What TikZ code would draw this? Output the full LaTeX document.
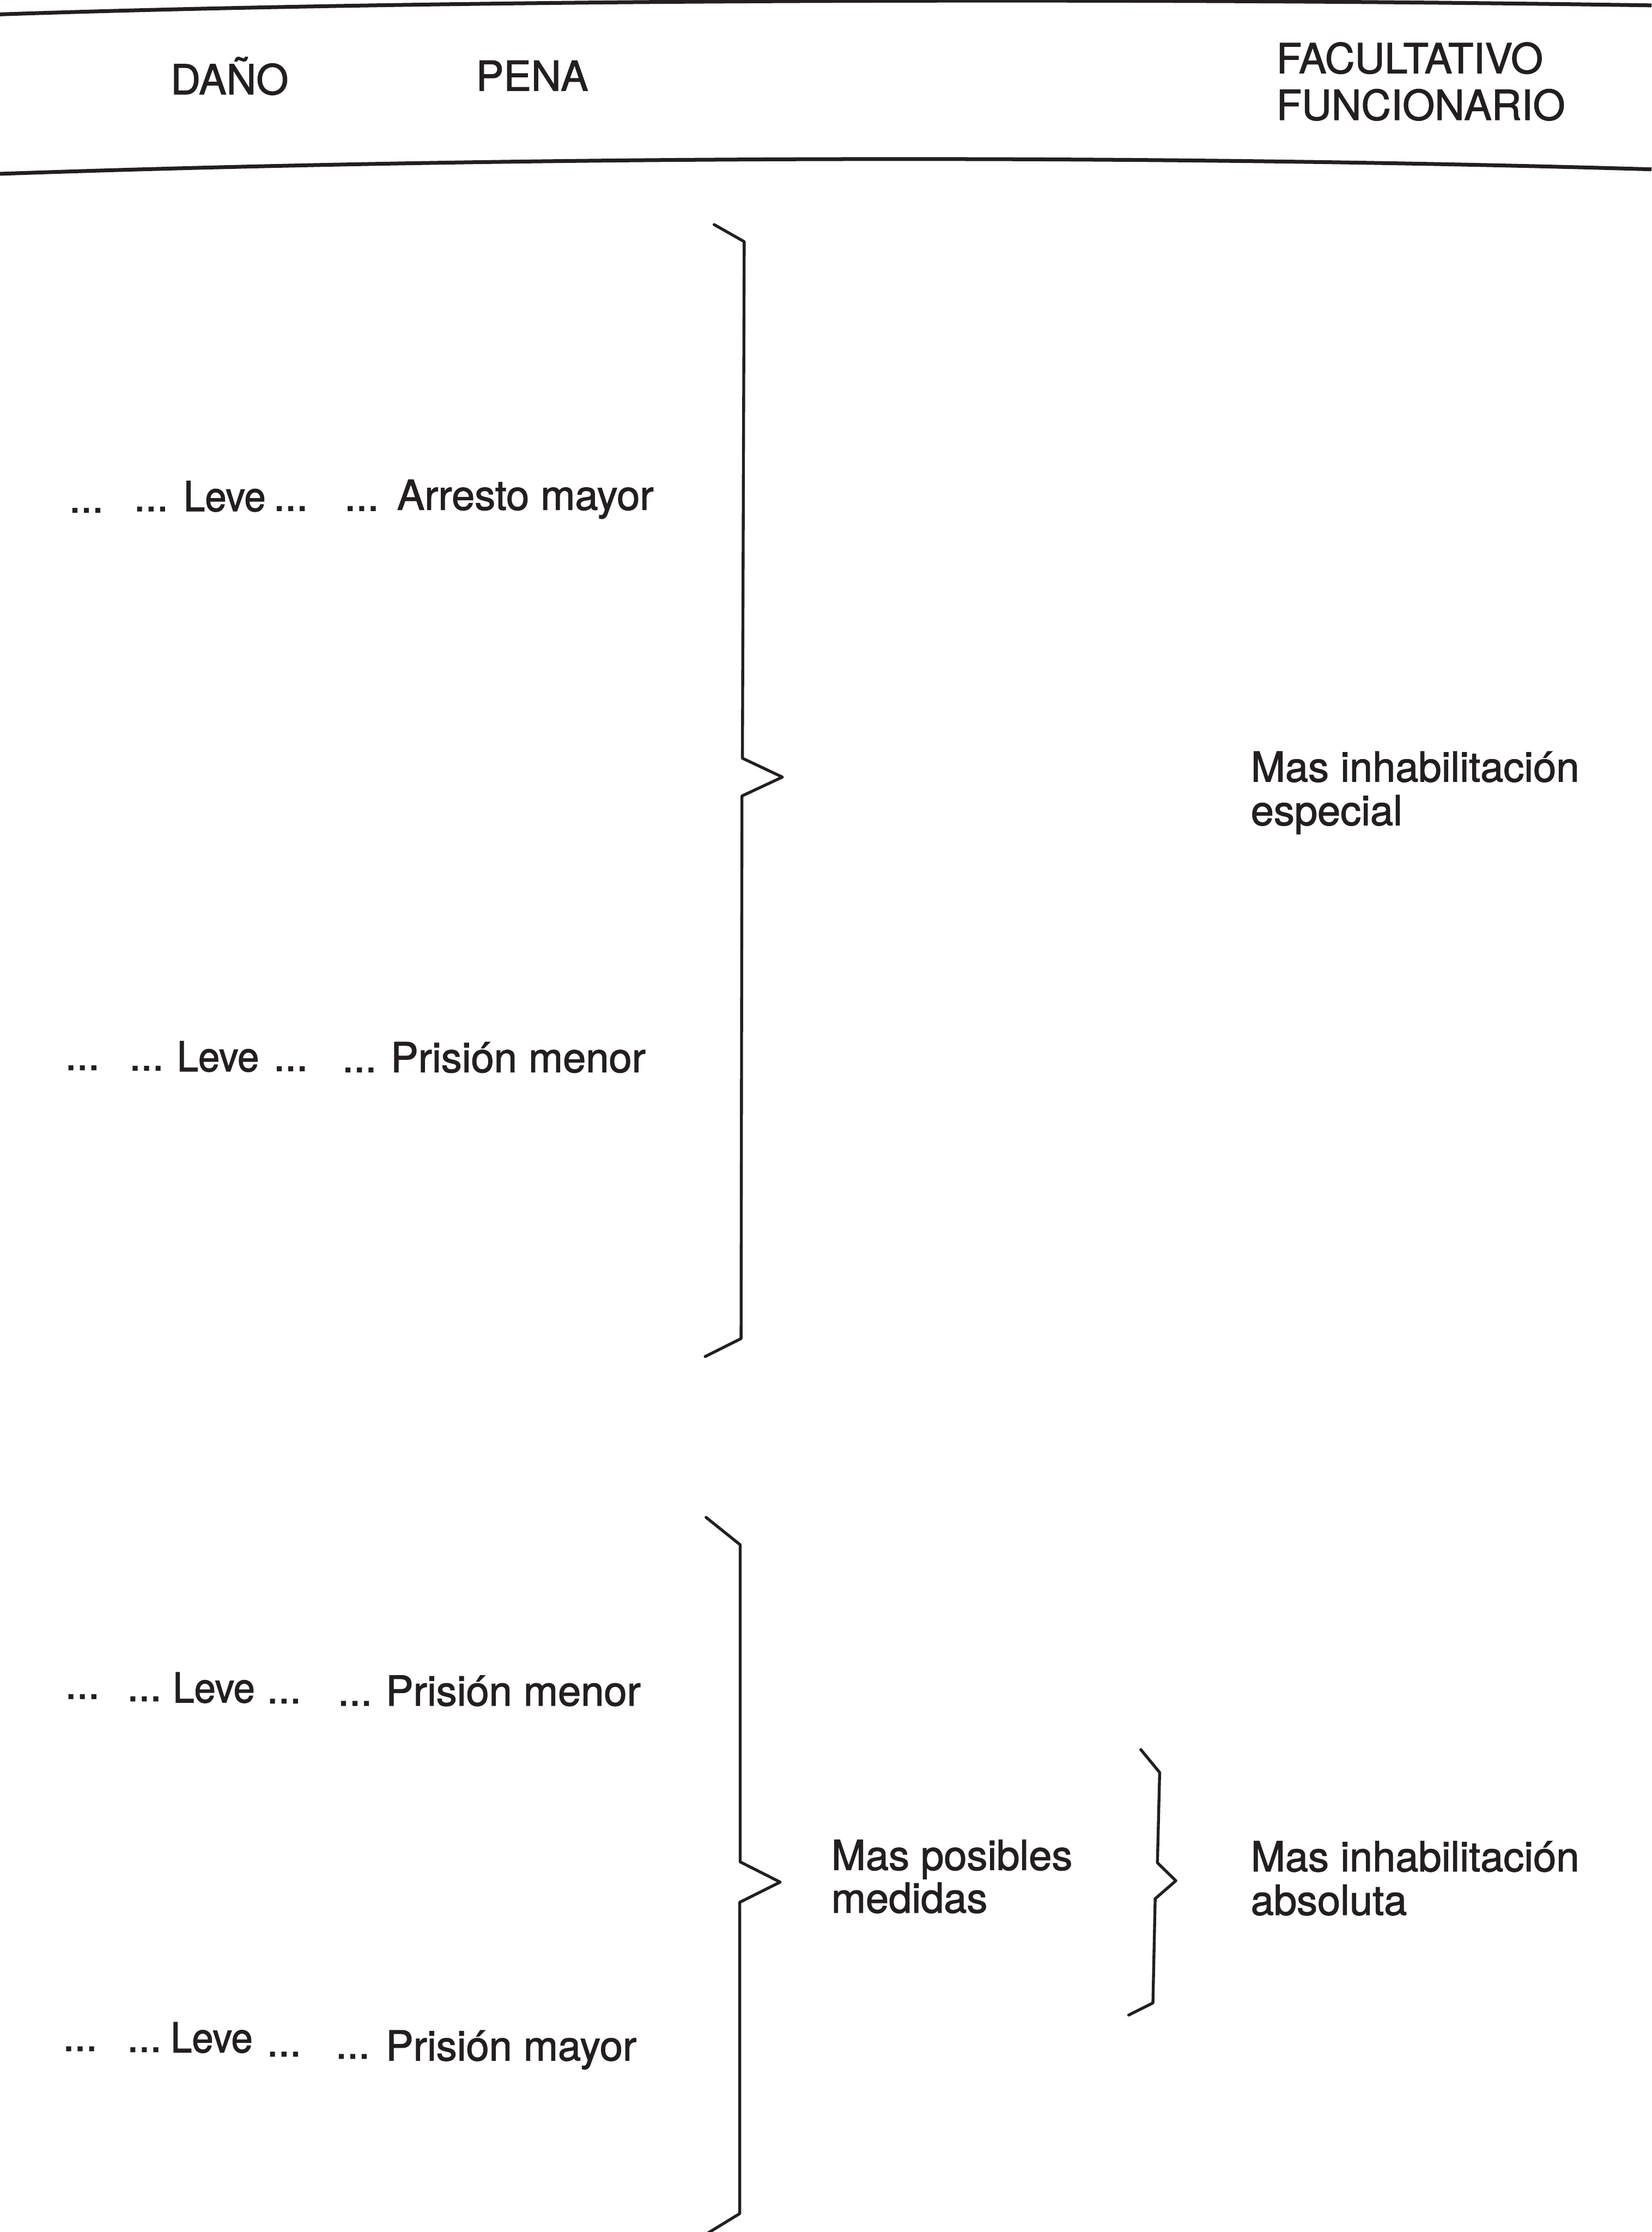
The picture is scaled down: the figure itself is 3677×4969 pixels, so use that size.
\documentclass[tikz,border=0pt]{standalone}
\usepackage{fontspec}
\setmainfont[FakeBold=1.6]{TeX Gyre Heros}
\newfontfamily\narrowfont[FakeBold=1.6,FakeStretch=0.93]{TeX Gyre Heros}
\definecolor{ink}{HTML}{231F20}
\begin{document}
\begin{tikzpicture}[x=0.1pt,y=-0.1pt,
  lbl/.style={anchor=base west, inner sep=0pt, outer sep=0pt, text=ink, font=\fontsize{9.2}{10}\selectfont},
  leve/.style={lbl, font=\narrowfont\fontsize{9.2}{10}\selectfont},
  rule/.style={draw=ink, line width=0.85pt},
  brace/.style={draw=ink, line width=0.65pt, line join=round, line cap=round}]
\useasboundingbox (0,0) rectangle (3677,4969);
\fill[white] (0,0) rectangle (3677,4969);
% header rules
\draw[rule] (0,32) .. controls (1000,-2) and (2500,-6) .. (3677,12);
\draw[rule] (0,387) .. controls (1200,345) and (2600,345) .. (3677,377);
% header
\node[lbl] (hdano) at (380,210) {DAÑO};
\node[lbl] (hpena) at (1060,202) {PENA};
\node[lbl] (hfac) at (2842,163) {FACULTATIVO};
\node[lbl] (hfun) at (2842,267) {FUNCIONARIO};
% row 1
\node[lbl] (r1d1) at (154,1141) {...};
\node[lbl] (r1d2) at (298,1138) {...};
\node[leve] (r1w1) at (409,1138) {Leve};
\node[lbl] (r1d3) at (609,1137) {...};
\node[lbl] (r1d4) at (767,1137) {...};
\node[lbl] (r1w2) at (884,1135) {Arresto mayor};
% row 2
\node[lbl] (r2d1) at (145,2382) {...};
\node[lbl] (r2d2) at (288,2383) {...};
\node[leve] (r2w1) at (394,2385) {Leve};
\node[lbl] (r2d3) at (609,2384) {...};
\node[lbl] (r2d4) at (762,2387) {...};
\node[lbl] (r2w2) at (870,2387) {Prisión menor};
% row 3
\node[lbl] (r3d1) at (145,3782) {...};
\node[lbl] (r3d2) at (283,3787) {...};
\node[leve] (r3w1) at (385,3790) {Leve};
\node[lbl] (r3d3) at (594,3792) {...};
\node[lbl] (r3d4) at (752,3797) {...};
\node[lbl] (r3w2) at (859,3797) {Prisión menor};
% row 4
\node[lbl] (r4d1) at (140,4566) {...};
\node[lbl] (r4d2) at (283,4568) {...};
\node[leve] (r4w1) at (380,4569) {Leve};
\node[lbl] (r4d3) at (594,4578) {...};
\node[lbl] (r4d4) at (747,4583) {...};
\node[lbl] (r4w2) at (859,4587) {Prisión mayor};
% right texts
\node[lbl] (espA) at (2785,1740) {Mas inhabilitación};
\node[lbl] (espB) at (2785,1837) {especial};
\node[lbl] (posA) at (1851,4163) {Mas posibles};
\node[lbl] (posB) at (1851,4258) {medidas};
\node[lbl] (absA) at (2785,4166) {Mas inhabilitación};
\node[lbl] (absB) at (2785,4263) {absoluta};
% braces
\draw[brace] (1590,500) -- (1657,538) -- (1653,1688) -- (1742,1730) -- (1652,1772) -- (1650,2980) -- (1570,3020);
\draw[brace] (1572,3378) -- (1648,3439) -- (1648,4145) -- (1737,4190) -- (1647,4235) -- (1647,4928) -- (1575,4972);
\draw[brace] (2540,3895) -- (2582,3946) -- (2577,4147) -- (2618,4187) -- (2572,4227) -- (2567,4459) -- (2513,4486);
\end{tikzpicture}
\end{document}
